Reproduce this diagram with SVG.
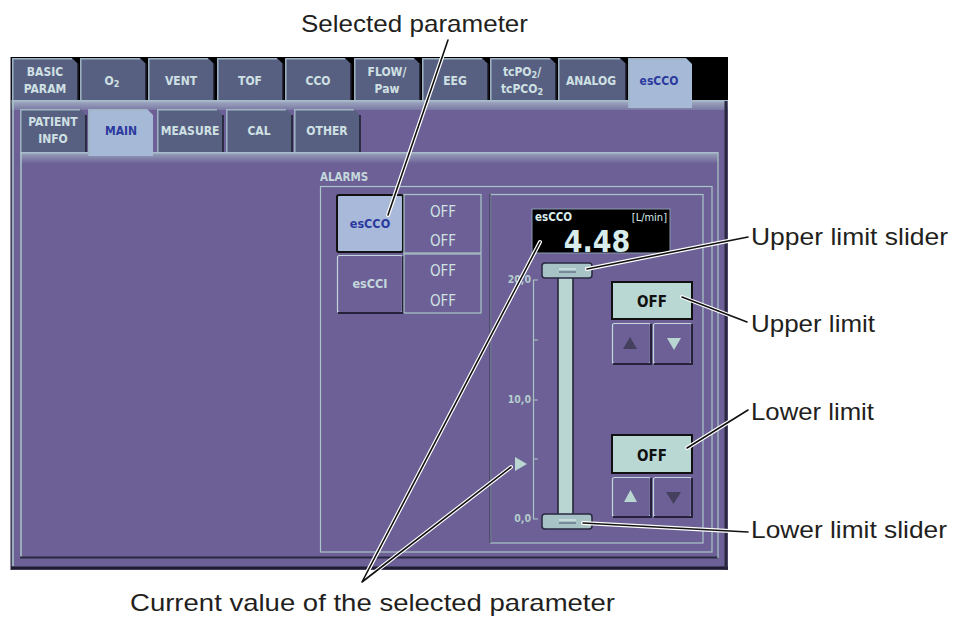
<svg xmlns="http://www.w3.org/2000/svg" width="967" height="617" viewBox="0 0 967 617">
<defs>
<style>
.ui{font-family:"DejaVu Sans Condensed","DejaVu Sans",sans-serif;font-weight:bold;}
.tab{fill:#586082;}
.tabsel{fill:#a6b9d6;}
.tedge{fill:none;stroke:#9fb4c4;stroke-width:1.5;}
.tdark{fill:none;stroke:#1a1a28;stroke-width:1.5;}
.tt{font-size:12px;fill:#cfe0e4;text-anchor:middle;}
.ts{font-size:12px;fill:#2b3a9e;text-anchor:middle;}
.lite{fill:none;stroke:#a9c6c6;stroke-width:1.2;}
.off{font-family:"DejaVu Sans Condensed","DejaVu Sans",sans-serif;font-size:15px;fill:#d0e2e2;text-anchor:middle;}
.btn{fill:#6c6096;stroke:#c4d8dc;stroke-width:1.2;}
.bsh{fill:none;stroke:#25223a;stroke-width:2;}
.offb{fill:#b9d8d4;stroke:#111;stroke-width:2;}
.offt{font-size:15px;fill:#111;text-anchor:middle;}
.scl{font-family:"DejaVu Sans Condensed","DejaVu Sans",sans-serif;font-size:10.5px;font-weight:bold;fill:#b4cccc;text-anchor:end;}
.lbl{font-family:"Liberation Sans",Arial,sans-serif;font-size:24px;fill:#231f20;}
.halo{fill:none;stroke:#fff;stroke-width:4;stroke-linecap:round;}
.cl{fill:none;stroke:#111;stroke-width:1.6;stroke-linecap:round;}
</style>
<linearGradient id="band" x1="0" y1="0" x2="0" y2="1">
<stop offset="0" stop-color="#9aa6bc"/><stop offset="1" stop-color="#6c6096"/>
</linearGradient>
<linearGradient id="band2" x1="0" y1="0" x2="0" y2="1">
<stop offset="0" stop-color="#a4b0c4"/><stop offset="1" stop-color="#7a78a4"/>
</linearGradient>
</defs>

<g id="screen">
<rect x="11" y="57" width="717" height="513" fill="#6c6096"/>
<rect x="11" y="57" width="717" height="44" fill="#000"/>
<rect x="11" y="100" width="717" height="10" fill="url(#band2)"/>
<line x1="11" y1="101" x2="728" y2="101" stroke="#a8bccc" stroke-width="1.5"/>
<line x1="13" y1="101" x2="13" y2="566" stroke="#a9c6c6" stroke-width="1.5"/>
<line x1="11" y1="568" x2="728" y2="568" stroke="#1e1c30" stroke-width="3"/>
<line x1="726" y1="101" x2="726" y2="570" stroke="#2a2840" stroke-width="3"/>
<line x1="11" y1="57" x2="11" y2="570" stroke="#1e1c30" stroke-width="1"/>
</g>

<g id="top-tabs">
<g id="tab-basic"><path class="tab" d="M12,100 V58 H72 L78,64 V100 Z"/><path class="tedge" d="M12.8,100 V58.8 H72"/><path class="tdark" d="M78,64 V100"/><text class="ui tt" x="45" y="76">BASIC</text><text class="ui tt" x="45" y="93">PARAM</text></g>
<g id="tab-o2"><path class="tab" d="M80,100 V58 H140 L146,64 V100 Z"/><path class="tedge" d="M80.8,100 V58.8 H140"/><path class="tdark" d="M146,64 V100"/><text class="ui tt" x="112" y="85">O<tspan font-size="9" dy="2">2</tspan></text></g>
<g id="tab-vent"><path class="tab" d="M148,100 V58 H208 L214,64 V100 Z"/><path class="tedge" d="M148.8,100 V58.8 H208"/><path class="tdark" d="M214,64 V100"/><text class="ui tt" x="181" y="85">VENT</text></g>
<g id="tab-tof"><path class="tab" d="M217,100 V58 H277 L283,64 V100 Z"/><path class="tedge" d="M217.8,100 V58.8 H277"/><path class="tdark" d="M283,64 V100"/><text class="ui tt" x="250" y="85">TOF</text></g>
<g id="tab-cco"><path class="tab" d="M285,100 V58 H345 L351,64 V100 Z"/><path class="tedge" d="M285.8,100 V58.8 H345"/><path class="tdark" d="M351,64 V100"/><text class="ui tt" x="318" y="85">CCO</text></g>
<g id="tab-flow"><path class="tab" d="M354,100 V58 H414 L420,64 V100 Z"/><path class="tedge" d="M354.8,100 V58.8 H414"/><path class="tdark" d="M420,64 V100"/><text class="ui tt" x="387" y="76">FLOW/</text><text class="ui tt" x="387" y="93">Paw</text></g>
<g id="tab-eeg"><path class="tab" d="M422,100 V58 H482 L488,64 V100 Z"/><path class="tedge" d="M422.8,100 V58.8 H482"/><path class="tdark" d="M488,64 V100"/><text class="ui tt" x="455" y="85">EEG</text></g>
<g id="tab-tcpo2"><path class="tab" d="M490,100 V58 H550 L556,64 V100 Z"/><path class="tedge" d="M490.8,100 V58.8 H550"/><path class="tdark" d="M556,64 V100"/><text class="ui tt" x="522" y="76">tcPO<tspan font-size="9" dy="2">2</tspan><tspan dy="-2">/</tspan></text><text class="ui tt" x="522" y="93">tcPCO<tspan font-size="9" dy="2">2</tspan></text></g>
<g id="tab-analog"><path class="tab" d="M558,100 V58 H620 L626,64 V100 Z"/><path class="tedge" d="M558.8,100 V58.8 H620"/><path class="tdark" d="M626,64 V100"/><text class="ui tt" x="591" y="85">ANALOG</text></g>
<g id="tab-escco"><path class="tabsel" d="M628,108 V58 H686 L692,64 V108 Z"/><path class="tedge" d="M628.8,108 V58.8 H686" stroke="#c8d8e4"/><text class="ui ts" x="659" y="85">esCCO</text></g>
</g>

<g id="inner-panel">
<rect x="20" y="152" width="698" height="406" fill="#6c6096"/>
<rect x="20" y="152" width="698" height="12" fill="url(#band)"/>
<line x1="20" y1="152.8" x2="718" y2="152.8" stroke="#a9bccb" stroke-width="1.5"/>
<line x1="21" y1="152" x2="21" y2="557" stroke="#a9c6c6" stroke-width="1.5"/>
<line x1="20" y1="557.5" x2="718" y2="557.5" stroke="#2a2840" stroke-width="2"/>
<line x1="718" y1="152" x2="718" y2="558" stroke="#a9c6c6" stroke-width="1.2"/>
</g>

<g id="sub-tabs">
<g id="tab-patient"><path class="tab" d="M20,152 V109 H80 L86,115 V152 Z"/><path class="tedge" d="M20.8,152 V109.8 H80"/><path class="tdark" d="M86,115 V152"/><text class="ui tt" x="53" y="126">PATIENT</text><text class="ui tt" x="53" y="143">INFO</text></g>
<g id="tab-main"><path class="tabsel" d="M88,156 V109 H147 L153,115 V156 Z"/><path class="tedge" d="M88.8,156 V109.8 H147" stroke="#c8d8e4"/><text class="ui ts" x="121" y="135">MAIN</text></g>
<g id="tab-measure"><path class="tab" d="M157,152 V109 H217 L223,115 V152 Z"/><path class="tedge" d="M157.8,152 V109.8 H217"/><path class="tdark" d="M223,115 V152"/><text class="ui tt" x="190" y="135">MEASURE</text></g>
<g id="tab-cal"><path class="tab" d="M226,152 V109 H286 L292,115 V152 Z"/><path class="tedge" d="M226.8,152 V109.8 H286"/><path class="tdark" d="M292,115 V152"/><text class="ui tt" x="259" y="135">CAL</text></g>
<g id="tab-other"><path class="tab" d="M294,152 V109 H354 L360,115 V152 Z"/><path class="tedge" d="M294.8,152 V109.8 H354"/><path class="tdark" d="M360,115 V152"/><text class="ui tt" x="327" y="135">OTHER</text></g>
</g>

<g id="alarms">
<text class="ui" x="320" y="181" font-size="11.5" fill="#c4d8dc">ALARMS</text>
<rect class="lite" x="320.5" y="186.5" width="391.5" height="365.5"/>
<g id="btn-escco"><rect x="337" y="195" width="66" height="57" rx="2" fill="#a9b9d9" stroke="#111" stroke-width="2"/><text class="ui" x="370" y="228" font-size="12.5" fill="#2b3a9e" text-anchor="middle">esCCO</text></g>
<g id="off-escco"><rect class="lite" x="404" y="194.5" width="77" height="58.5"/><text class="off" x="443" y="217">OFF</text><text class="off" x="443" y="246">OFF</text></g>
<g id="btn-escci"><rect class="btn" x="337.5" y="255.5" width="65" height="57" rx="2"/><path class="bsh" d="M338,313 H403 V256"/><text class="ui" x="370" y="288" font-size="12.5" fill="#c4d8dc" text-anchor="middle">esCCI</text></g>
<g id="off-escci"><rect class="lite" x="404" y="254" width="77" height="59"/><text class="off" x="443" y="276">OFF</text><text class="off" x="443" y="306">OFF</text></g>
</g>

<g id="slider-box">
<rect class="lite" x="490.5" y="194.5" width="212.5" height="348.5"/>
<line x1="490" y1="194" x2="490" y2="543" stroke="#3c3858" stroke-width="1.2"/>
</g>

<g id="display">
<rect x="532" y="209" width="138" height="44" fill="#000" stroke="#8a9ab0" stroke-width="1"/>
<text class="ui" x="535" y="221" font-size="11.5" fill="#d8ecec">esCCO</text>
<text x="667" y="221" font-family="DejaVu Sans Condensed,DejaVu Sans,sans-serif" font-size="11" fill="#d8ecec" text-anchor="end">[L/min]</text>
<text class="ui" x="597" y="252" font-size="30" fill="#d8ecec" text-anchor="middle">4.48</text>
</g>

<g id="scale">
<line x1="533.5" y1="280" x2="533.5" y2="519" stroke="#a9c6c6" stroke-width="1.2"/>
<path d="M533,280 H538 M533,340 H538 M533,400 H538 M533,459 H538 M533,519 H538" stroke="#a9c6c6" stroke-width="1.2"/>
<text class="scl" x="531" y="283">20,0</text>
<text class="scl" x="531" y="403">10,0</text>
<text class="scl" x="531" y="522">0,0</text>
<polygon points="515,457 527,464 515,471" fill="#b9d6d2"/>
</g>

<g id="slider">
<rect x="558" y="276" width="15" height="239" fill="#b9d6d2" stroke="#1e1e30" stroke-width="1.5"/>
<g id="upper-thumb"><rect x="542" y="263" width="50" height="15" rx="3" fill="#a7c3c6" stroke="#2a2840" stroke-width="1.5"/><line x1="559" y1="269" x2="576" y2="269" stroke="#e6f2f2"/><line x1="559" y1="272" x2="576" y2="272" stroke="#4a5070"/></g>
<g id="lower-thumb"><rect x="542" y="514" width="50" height="15" rx="3" fill="#a7c3c6" stroke="#2a2840" stroke-width="1.5"/><line x1="559" y1="520" x2="576" y2="520" stroke="#e6f2f2"/><line x1="559" y1="523" x2="576" y2="523" stroke="#4a5070"/></g>
</g>

<g id="upper-limit">
<rect class="offb" x="612" y="282" width="80" height="37"/>
<text class="ui offt" x="652" y="307">OFF</text>
<rect class="btn" x="612.5" y="323.5" width="38" height="40" rx="2"/><path class="bsh" d="M613,364 H651 V324"/>
<polygon points="623,349 630,337 637,349" fill="#44405e"/>
<rect class="btn" x="653.5" y="323.5" width="38" height="40" rx="2"/><path class="bsh" d="M654,364 H692 V324"/>
<polygon points="667,338 681,338 674,350" fill="#b9d6d2"/>
</g>

<g id="lower-limit">
<rect class="offb" x="612" y="435" width="80" height="38"/>
<text class="ui offt" x="652" y="461">OFF</text>
<rect class="btn" x="612.5" y="477.5" width="38" height="39" rx="2"/><path class="bsh" d="M613,517 H651 V478"/>
<polygon points="624,502 630.5,490 637,502" fill="#b9d6d2"/>
<rect class="btn" x="653.5" y="477.5" width="38" height="39" rx="2"/><path class="bsh" d="M654,517 H692 V478"/>
<polygon points="666,492 681,492 673.5,504" fill="#44405e"/>
</g>

<g id="connectors">
<path class="halo" d="M448,40 L388,215"/><path class="cl" d="M448,40 L388,215"/>
<path class="halo" d="M362,582 L540,242 M362,582 L511,467"/><path class="cl" d="M362,582 L540,242 M362,582 L511,467"/>
<path class="halo" d="M587,269 L748,237"/><path class="cl" d="M587,269 L748,237"/>
<path class="halo" d="M682,297 L747,322"/><path class="cl" d="M682,297 L747,322"/>
<path class="halo" d="M687,448 L748,410"/><path class="cl" d="M687,448 L748,410"/>
<path class="halo" d="M583,523 L748,532"/><path class="cl" d="M583,523 L748,532"/>
</g>

<g id="labels">
<text class="lbl" x="301" y="32" textLength="227" lengthAdjust="spacingAndGlyphs">Selected parameter</text>
<text class="lbl" x="751" y="245" textLength="197" lengthAdjust="spacingAndGlyphs">Upper limit slider</text>
<text class="lbl" x="751" y="332" textLength="124" lengthAdjust="spacingAndGlyphs">Upper limit</text>
<text class="lbl" x="751" y="420" textLength="123" lengthAdjust="spacingAndGlyphs">Lower limit</text>
<text class="lbl" x="751" y="538" textLength="196" lengthAdjust="spacingAndGlyphs">Lower limit slider</text>
<text class="lbl" x="130" y="611" textLength="485" lengthAdjust="spacingAndGlyphs">Current value of the selected parameter</text>
</g>
</svg>
